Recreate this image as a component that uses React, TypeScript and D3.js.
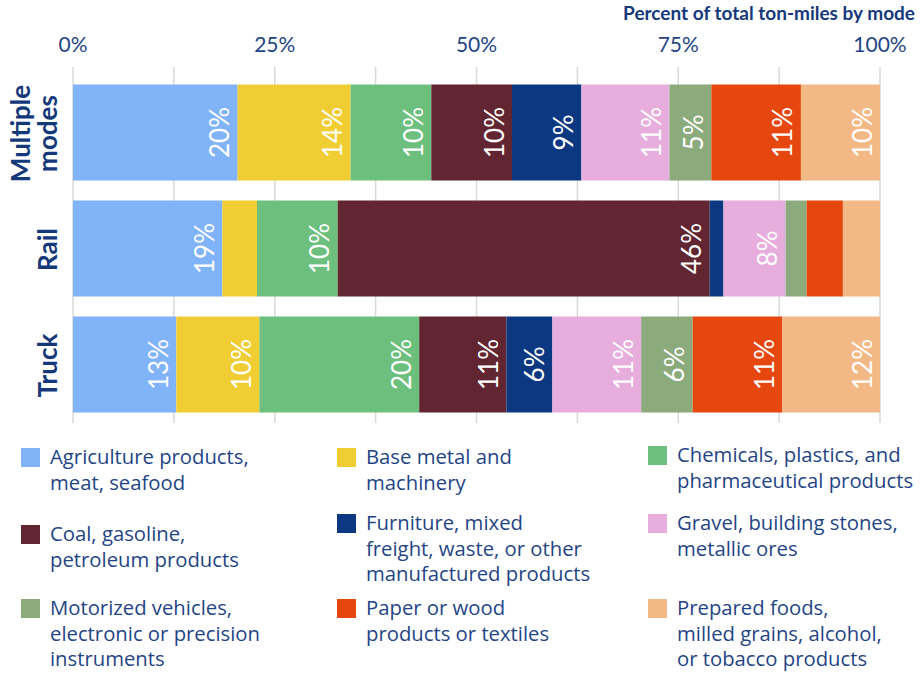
import React from "react";
import * as d3 from "d3";

const modes = ["Multiple modes", "Rail", "Truck"];
const modeLines = [["Multiple", "modes"], ["Rail"], ["Truck"]];

const commodities = [
  "Agriculture products, meat, seafood",
  "Base metal and machinery",
  "Chemicals, plastics, and pharmaceutical products",
  "Coal, gasoline, petroleum products",
  "Furniture, mixed freight, waste, or other manufactured products",
  "Gravel, building stones, metallic ores",
  "Motorized vehicles, electronic or precision instruments",
  "Paper or wood products or textiles",
  "Prepared foods, milled grains, alcohol, or tobacco products",
];

const legendLines = [
  ["Agriculture products,", "meat, seafood"],
  ["Base metal and", "machinery"],
  ["Chemicals, plastics, and", "pharmaceutical products"],
  ["Coal, gasoline,", "petroleum products"],
  ["Furniture, mixed", "freight, waste, or other", "manufactured products"],
  ["Gravel, building stones,", "metallic ores"],
  ["Motorized vehicles,", "electronic or precision", "instruments"],
  ["Paper or wood", "products or textiles"],
  ["Prepared foods,", "milled grains, alcohol,", "or tobacco products"],
];

const colors = [
  "#80b3f8",
  "#f0cd32",
  "#6cbf7c",
  "#612631",
  "#0b3881",
  "#e6addd",
  "#8cab7d",
  "#e5470f",
  "#f2b986",
];

// percent of total ton-miles, per commodity, per mode
const multipleModes = [20.4, 14.0, 10.0, 10.0, 8.6, 10.9, 5.2, 11.1, 9.8];
const rail = [18.5, 4.3, 10.0, 46.1, 1.7, 7.7, 2.6, 4.5, 4.6];
const truck = [12.8, 10.3, 19.8, 10.8, 5.7, 11.0, 6.4, 11.1, 12.1];

const tickValues = [0, 25, 50, 75, 100];
const tickLabels = ["0%", "25%", "50%", "75%", "100%"];
const gridValues = [0, 12.5, 25, 37.5, 50, 62.5, 75, 87.5, 100];

const W = 922;
const H = 673;
const FONT = "Lato, 'Open Sans', sans-serif";
const LEGEND_FONT = "'Open Sans', Lato, sans-serif";
const TEXT = "#1f4585";
const AXIS = "#14397b";

// legend layout (column x of swatch, first-line baseline of each item)
const legendX = [21, 337, 648];
const legendBaseline = [464, 464, 462, 541, 530, 530, 615, 615, 615];

export default function App() {
  const x = d3.scaleLinear().domain([0, 100]).range([73, 880]);
  const y = d3
    .scaleBand<string>()
    .domain(modes)
    .range([84.5, 412.5])
    .paddingInner(20 / 116)
    .paddingOuter(0);

  const table = [multipleModes, rail, truck];
  const stackData = modes.map((m, i) => {
    const row: any = { mode: m };
    commodities.forEach((c, j) => (row[c] = table[i][j]));
    return row;
  });
  const series = d3.stack<any>().keys(commodities)(stackData);

  return (
    <svg
      width={W}
      height={H}
      style={{ position: "absolute", left: 0, top: 0, background: "#fff" }}
      fontFamily={FONT}
    >
      {/* header */}
      <text
        x={915}
        y={20}
        textAnchor="end"
        fontSize={19}
        fontWeight={700}
        fill={AXIS}
      >
        Percent of total ton-miles by mode
      </text>

      {/* tick labels */}
      {tickValues.map((t, i) => (
        <text
          key={t}
          x={x(t)}
          y={52}
          textAnchor="middle"
          fontSize={21}
          fill={TEXT}
        >
          {tickLabels[i]}
        </text>
      ))}

      {/* grid */}
      {gridValues.map((g) => (
        <line
          key={g}
          x1={x(g)}
          x2={x(g)}
          y1={67}
          y2={423}
          stroke="#d9d9d9"
          strokeWidth={1.5}
        />
      ))}

      {/* bars */}
      {series.map((s, j) => (
        <g key={s.key} fill={colors[j]}>
          {s.map((d, i) => (
            <rect
              key={i}
              x={x(d[0])}
              y={y(modes[i])}
              width={x(d[1]) - x(d[0])}
              height={y.bandwidth()}
            />
          ))}
        </g>
      ))}

      {/* value labels */}
      {series.map((s, j) =>
        s.map((d, i) => {
          const v = d[1] - d[0];
          if (v < 5) return null;
          const cx = x(d[1]) - 8.5;
          const cy = (y(modes[i]) as number) + y.bandwidth() / 2;
          return (
            <text
              key={`${j}-${i}`}
              transform={`translate(${cx},${cy}) rotate(-90)`}
              textAnchor="middle"
              fontSize={26}
              fill="#ffffff"
            >
              {`${Math.round(v)}%`}
            </text>
          );
        })
      )}

      {/* mode labels */}
      {modes.map((m, i) => {
        const cy = (y(m) as number) + y.bandwidth() / 2;
        const lines = modeLines[i];
        return lines.map((ln, k) => {
          const bx = 57 - (lines.length - 1 - k) * 27;
          return (
            <text
              key={`${m}-${k}`}
              transform={`translate(${bx},${cy + 1}) rotate(-90)`}
              textAnchor="middle"
              fontSize={26}
              fontWeight={700}
              fill={AXIS}
            >
              {ln}
            </text>
          );
        });
      })}

      {/* legend */}
      {commodities.map((c, j) => {
        const col = j % 3;
        const sx = legendX[col];
        const b = legendBaseline[j];
        return (
          <g key={c}>
            <rect x={sx} y={b - 16} width={19} height={19} fill={colors[j]} />
            <text fontSize={20.3} fill={TEXT} fontFamily={LEGEND_FONT}>
              {legendLines[j].map((ln, k) => (
                <tspan key={k} x={sx + 29} y={b + k * 25.5}>
                  {ln}
                </tspan>
              ))}
            </text>
          </g>
        );
      })}
    </svg>
  );
}
